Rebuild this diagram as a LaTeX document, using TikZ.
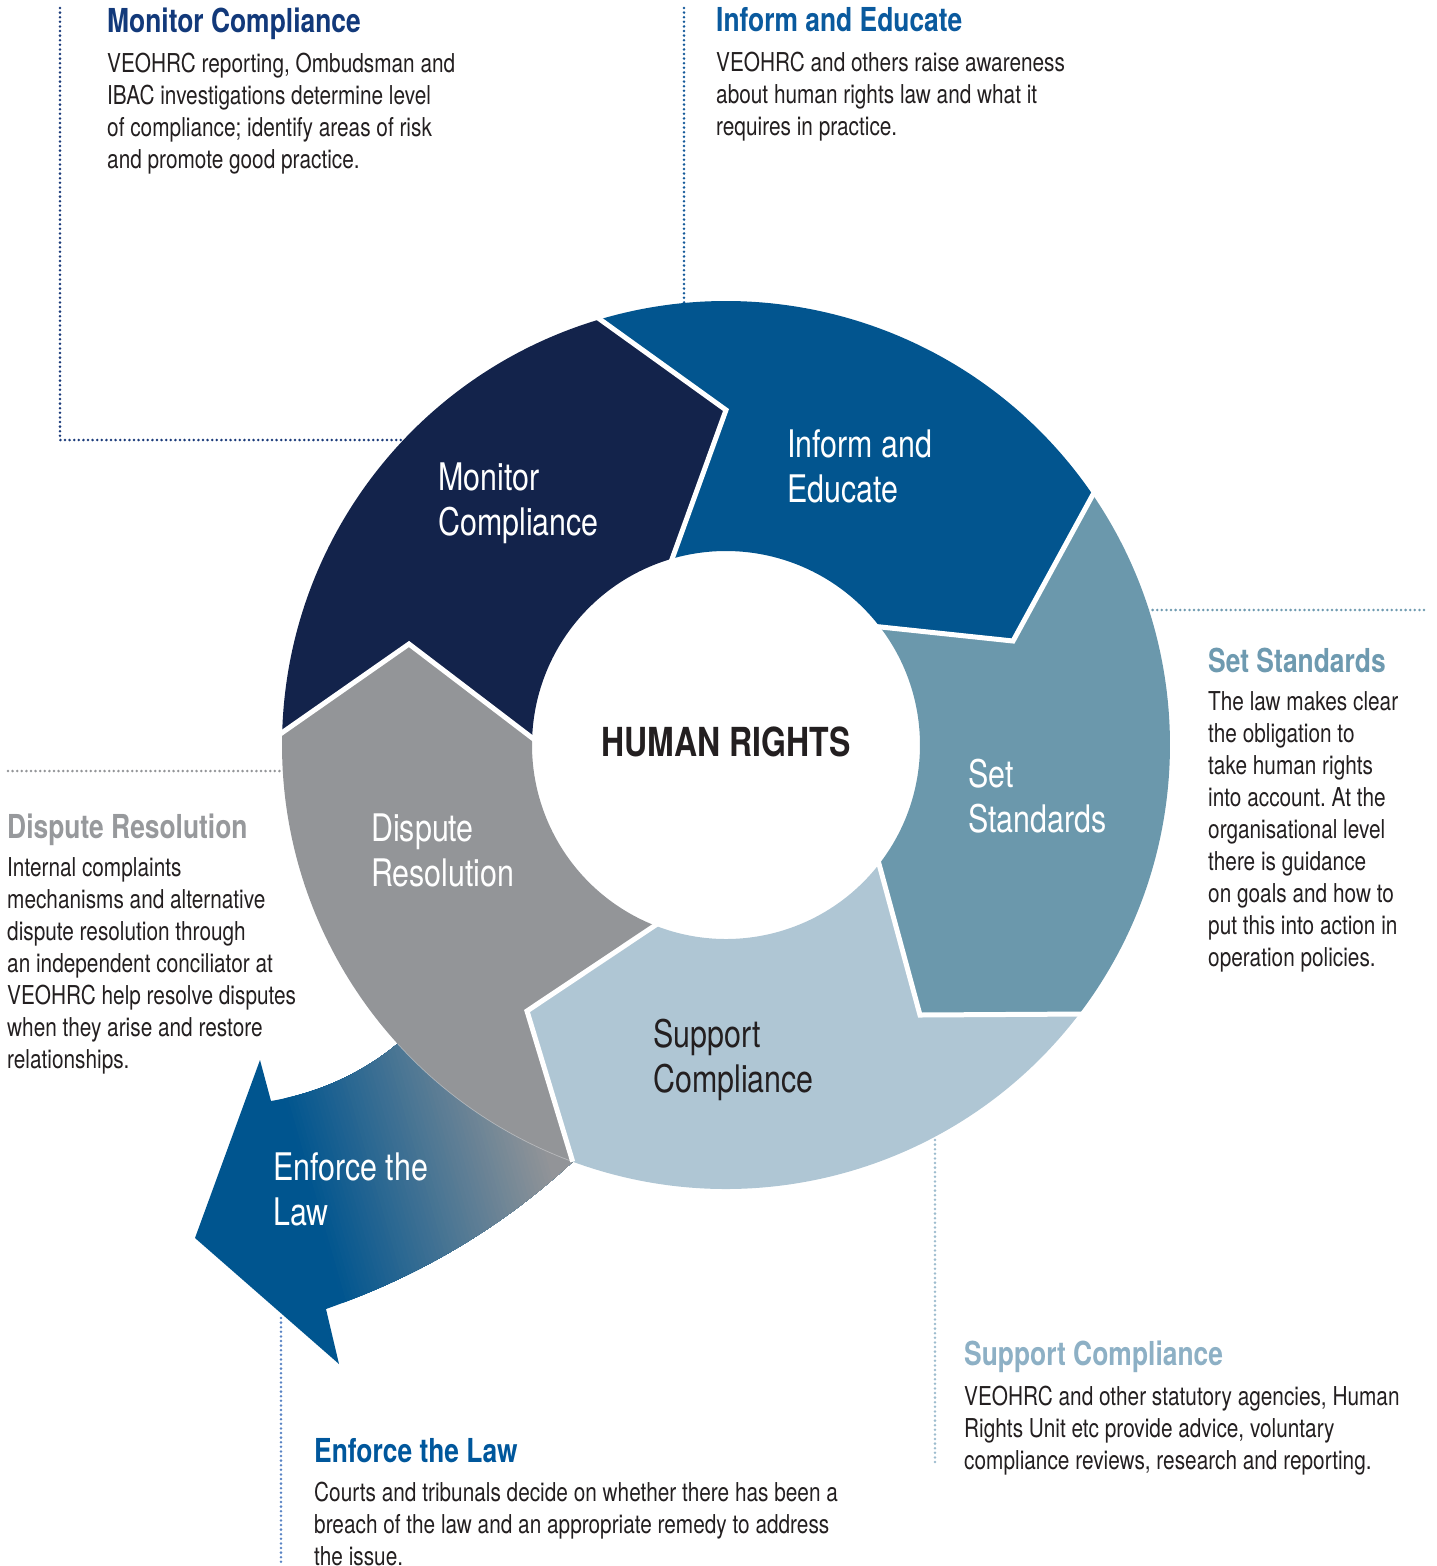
\documentclass[tikz,border=0pt]{standalone}
\usepackage{fontspec}
\setmainfont{TeX Gyre Heros}[FakeStretch=0.8]
\frenchspacing
\usetikzlibrary{calc}
\definecolor{monitorC}{HTML}{13234B}
\definecolor{informC}{HTML}{02558F}
\definecolor{setC}{HTML}{6B98AC}
\definecolor{supportC}{HTML}{AFC6D4}
\definecolor{disputeC}{HTML}{939598}
\definecolor{eblue}{HTML}{00558F}
\definecolor{egrey}{HTML}{939598}
\definecolor{hMonitor}{HTML}{12397A}
\definecolor{hInform}{HTML}{0A5A9E}
\definecolor{hSet}{HTML}{6E9AB0}
\definecolor{hDispute}{HTML}{97999C}
\definecolor{hSupport}{HTML}{8DB0C5}
\definecolor{hEnforce}{HTML}{00579C}
\definecolor{bodyC}{HTML}{231F20}
\definecolor{dMonitor}{HTML}{1A3A7A}
\definecolor{dInform}{HTML}{155A9A}
\definecolor{dSet}{HTML}{6E9AB0}
\definecolor{dDispute}{HTML}{939598}
\definecolor{dSupport}{HTML}{9DBCCE}
\definecolor{dEnforce}{HTML}{5A84C4}
\begin{document}
\begin{tikzpicture}[x=1pt,y=1pt,
  dotline/.style={line width=2.8pt, dash pattern=on 0pt off 4.6pt, line cap=round},
  sep/.style={white, line width=5pt, line join=miter},
  seglabel/.style={anchor=north west, inner sep=0pt, align=left, font=\fontsize{38}{45}\selectfont},
  headtext/.style={anchor=north west, inner sep=0pt, font=\bfseries\fontsize{33}{40}\selectfont},
  bodytext/.style={anchor=north west, inner sep=0pt, align=left, text=bodyC, font=\fontsize{26}{32}\selectfont}]
\useasboundingbox (0,0) rectangle (1437,-1566);
\coordinate (C) at (726,-745);
\coordinate (T1) at (726,-410);
\coordinate (T2) at (1013,-641);
\coordinate (T3) at (920,-1015);
\coordinate (T4) at (527,-1011);
\coordinate (T5) at (409,-644);
\coordinate (O1) at ($(C)+(106.5:444)$);
\coordinate (I1) at ($(C)+(106.1:194)$);
\coordinate (O2) at ($(C)+(34.3:444)$);
\coordinate (I2) at ($(C)+(37.5:194)$);
\coordinate (O3) at ($(C)+(-37.3:444)$);
\coordinate (I3) at ($(C)+(-37.9:194)$);
\coordinate (O4) at ($(C)+(-110.2:444)$);
\coordinate (I4) at ($(C)+(-111.5:194)$);
\coordinate (O5) at ($(C)+(178.4:444)$);
\coordinate (I5) at ($(C)+(177.9:194)$);
\coordinate (AU) at ($(C)+(-137.7:444)$);

% leader lines
\coordinate (mA) at (60,-8);
\coordinate (mB) at (60,-440);
\coordinate (mC) at (405,-440);
\draw[dotline, dMonitor] (mA) -- (mB) -- (mC);
\coordinate (iA) at (684,-8);
\coordinate (iB) at (684,-305);
\draw[dotline, dInform] (iA) -- (iB);
\coordinate (sA) at (1148,-610);
\coordinate (sB) at (1428,-610);
\draw[dotline, dSet] (sA) -- (sB);
\coordinate (dA) at (8,-771);
\coordinate (dB) at (285,-771);
\draw[dotline, dDispute] (dA) -- (dB);
\coordinate (uA) at (935,-1140);
\coordinate (uB) at (935,-1465);
\draw[dotline, dSupport] (uA) -- (uB);
\coordinate (eA) at (281,-1318);
\coordinate (eB) at (281,-1566);
\draw[dotline, dEnforce] (eA) -- (eB);

% Enforce the Law arrow with gradient
\begin{scope}
\clip (AU) .. controls (361,-1074) and (318,-1093) .. (271,-1101)
  -- (260,-1060) -- (195,-1238) -- (339,-1364) -- (326,-1309)
  .. controls (419,-1276) and (501,-1228) .. (O4)
  -- ($(C)+(-110.2:436)$) arc[start angle=-110.2, end angle=-137.7, radius=436] -- cycle;
\begin{scope}[rotate=16]
\fill[eblue] (-400,-1600) rectangle (500,-900);
\foreach \i in {0,...,59} {
  \pgfmathsetmacro{\p}{(\i+0.5)/60*100}
  \pgfmathsetmacro{\sa}{-30+4*\i}
  \fill[egrey!\p!eblue] (\sa,-1600) rectangle (500,-900);
}
\end{scope}
\end{scope}

% ring segments
\fill[monitorC] (O5) arc[start angle=178.4, end angle=106.5, radius=444]
  -- (T1) -- (I1) arc[start angle=106.1, end angle=177.9, radius=194] -- (T5) -- cycle;
\fill[informC] (O1) arc[start angle=106.5, end angle=34.3, radius=444]
  -- (T2) -- (I2) arc[start angle=37.5, end angle=106.1, radius=194] -- (T1) -- cycle;
\fill[setC] (O2) arc[start angle=34.3, end angle=-37.3, radius=444]
  -- (T3) -- (I3) arc[start angle=-37.9, end angle=37.5, radius=194] -- (T2) -- cycle;
\fill[supportC] (O3) arc[start angle=-37.3, end angle=-110.2, radius=444]
  -- (T4) -- (I4) arc[start angle=-111.5, end angle=-37.9, radius=194] -- (T3) -- cycle;
\fill[disputeC] (O4) arc[start angle=-110.2, end angle=-181.6, radius=444]
  -- (T5) -- (I5) arc[start angle=-182.1, end angle=-111.5, radius=194] -- (T4) -- cycle;
\draw[white, opacity=0.35, line width=0.7pt] (O4) arc[start angle=-110.2, end angle=-137.7, radius=444];

% white separators
\draw[sep] ($(T1)!1.05!(O1)$) -- (T1) -- ($(T1)!1.06!(I1)$);
\draw[sep] ($(T2)!1.05!(O2)$) -- (T2) -- ($(T2)!1.06!(I2)$);
\draw[sep] ($(T3)!1.05!(O3)$) -- (T3) -- ($(T3)!1.06!(I3)$);
\draw[sep] (O4) -- (T4) -- ($(T4)!1.06!(I4)$);
\draw[sep] ($(T5)!1.05!(O5)$) -- (T5) -- ($(T5)!1.06!(I5)$);

% segment labels
\node[seglabel, text=white] (lMonitor) at (438,-463) {Monitor\\Compliance};
\node[seglabel, text=white] (lInform) at (787,-429) {Inform and\\Educate};
\node[seglabel, text=white] (lSet) at (968,-759) {Set\\Standards};
\node[seglabel, text=bodyC] (lSupport) at (653,-1019) {Support\\Compliance};
\node[seglabel, text=white] (lDispute) at (371,-814) {Dispute\\Resolution};
\node[seglabel, text=white] (lEnforce) at (273,-1152) {Enforce the\\Law};
\node[inner sep=0pt, text=bodyC, font=\bfseries\fontsize{40}{48}\selectfont] (hr) at (726,-742) {HUMAN RIGHTS};

% descriptions
\node[headtext, text=hMonitor] (hMon) at (107,-8) {Monitor Compliance};
\node[bodytext] (bMon) at (107,-53) {VEOHRC reporting, Ombudsman and\\IBAC investigations determine level\\of compliance; identify areas of risk\\and promote good practice.};
\node[headtext, text=hInform] (hInf) at (716,-7) {Inform and Educate};
\node[bodytext] (bInf) at (716,-52) {VEOHRC and others raise awareness\\about human rights law and what it\\requires in practice.};
\node[headtext, text=hSet] (hSt) at (1208,-648) {Set Standards};
\node[bodytext] (bSt) at (1208,-691.5) {The law makes clear\\the obligation to\\take human rights\\into account. At the\\organisational level\\there is guidance\\on goals and how to\\put this into action in\\operation policies.};
\node[headtext, text=hDispute] (hDis) at (7,-814) {Dispute Resolution};
\node[bodytext] (bDis) at (7,-857.5) {Internal complaints\\mechanisms and alternative\\dispute resolution through\\an independent conciliator at\\VEOHRC help resolve disputes\\when they arise and restore\\relationships.};
\node[headtext, text=hSupport] (hSup) at (964,-1341) {Support Compliance};
\node[bodytext] (bSup) at (964,-1385.5) {VEOHRC and other statutory agencies, Human\\Rights Unit etc provide advice, voluntary\\compliance reviews, research and reporting.};
\node[headtext, text=hEnforce] (hEnf) at (314,-1438) {Enforce the Law};
\node[bodytext] (bEnf) at (314,-1481.5) {Courts and tribunals decide on whether there has been a\\breach of the law and an appropriate remedy to address\\the issue.};
\end{tikzpicture}
\end{document}
